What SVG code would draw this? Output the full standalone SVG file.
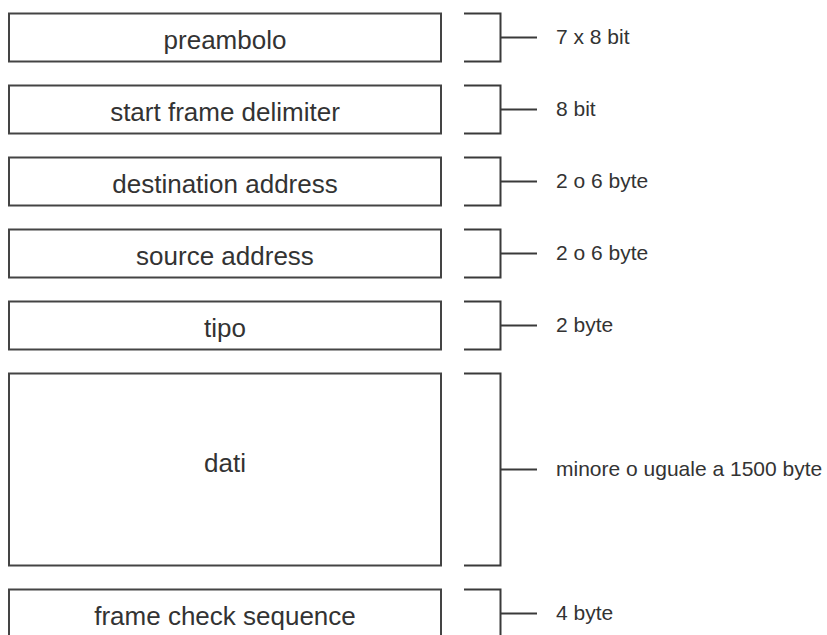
<svg xmlns="http://www.w3.org/2000/svg" width="827" height="635" viewBox="0 0 827 635">
  <style>
    .field rect { fill: #ffffff; stroke: #444444; stroke-width: 2; }
    .field text { font-family: "Liberation Sans", Arial, sans-serif; font-size: 26px; fill: #333333; text-anchor: middle; }
    .brace { fill: none; stroke: #3a3a3a; stroke-width: 2; }
    .size { font-family: "Liberation Sans", Arial, sans-serif; font-size: 21px; fill: #333333; }
  </style>
  <rect width="827" height="635" fill="#ffffff"/>

  <!-- frame fields -->
  <g id="preambolo" class="field">
    <rect x="9" y="13.5" width="432" height="48"/>
    <text x="225" y="48.5">preambolo</text>
  </g>
  <g id="sfd" class="field">
    <rect x="9" y="85.5" width="432" height="48"/>
    <text x="225" y="120.5">start frame delimiter</text>
  </g>
  <g id="dest" class="field">
    <rect x="9" y="157.5" width="432" height="48"/>
    <text x="225" y="192.5">destination address</text>
  </g>
  <g id="src" class="field">
    <rect x="9" y="229.5" width="432" height="48"/>
    <text x="225" y="264.5">source address</text>
  </g>
  <g id="tipo" class="field">
    <rect x="9" y="301.5" width="432" height="48"/>
    <text x="225" y="336.5">tipo</text>
  </g>
  <g id="dati" class="field">
    <rect x="9" y="373.5" width="432" height="192"/>
    <text x="225" y="472">dati</text>
  </g>
  <g id="fcs" class="field">
    <rect x="9" y="589.5" width="432" height="48"/>
    <text x="225" y="624.5">frame check sequence</text>
  </g>

  <!-- size braces -->
  <g id="connectors" class="brace">
    <path d="M464 13.5 H500.5 V61.5 H464 M500.5 37.5 H537"/>
    <path d="M464 85.5 H500.5 V133.5 H464 M500.5 109.5 H537"/>
    <path d="M464 157.5 H500.5 V205.5 H464 M500.5 181.5 H537"/>
    <path d="M464 229.5 H500.5 V277.5 H464 M500.5 253.5 H537"/>
    <path d="M464 301.5 H500.5 V349.5 H464 M500.5 325.5 H537"/>
    <path d="M464 373.5 H500.5 V565.5 H464 M500.5 469.5 H537"/>
    <path d="M464 589.5 H500.5 V637.5 H464 M500.5 613.5 H537"/>
  </g>

  <!-- size labels -->
  <g id="labels" class="size">
    <text x="556" y="43.5">7 x 8 bit</text>
    <text x="556" y="115.5">8 bit</text>
    <text x="556" y="187.5">2 o 6 byte</text>
    <text x="556" y="259.5">2 o 6 byte</text>
    <text x="556" y="331.5">2 byte</text>
    <text x="556" y="475.5">minore o uguale a 1500 byte</text>
    <text x="556" y="619.5">4 byte</text>
  </g>
</svg>
